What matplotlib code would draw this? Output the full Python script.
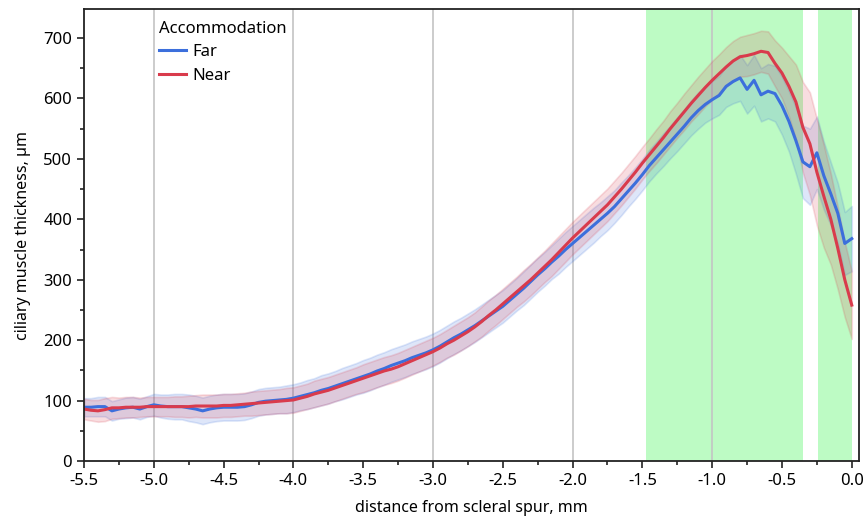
import numpy as np
import matplotlib
matplotlib.use("Agg")
import matplotlib.pyplot as plt
from matplotlib.ticker import MultipleLocator, FormatStrFormatter

plt.rcParams["font.family"] = ["Noto Sans", "DejaVu Sans"]

# ── data ──────────────────────────────────────────────────────────────────────
distance = np.round(np.arange(-5.5, 0.001, 0.05), 2)   # mm, 111 samples

far_mean = [
    89, 89, 90, 90, 83, 86, 88, 89, 86, 90, 93,
    91, 90, 90, 90, 88, 86, 83, 86, 88, 89,
    89, 89, 90, 93, 97, 99, 100, 101, 102, 104,
    107, 110, 113, 117, 120, 124, 128, 132, 136, 140,
    144, 149, 153, 158, 162, 166, 171, 175, 179, 184,
    190, 197, 204, 210, 217, 224, 232, 240, 248, 256,
    266, 276, 286, 297, 308, 318, 329, 339, 350, 360,
    370, 380, 390, 400, 410, 421, 434, 447, 460, 474,
    489, 502, 515, 528, 541, 554, 568, 580, 590, 598,
    605, 620, 628, 634, 615, 630, 606, 612, 608, 588,
    562, 530, 495, 487, 510, 472, 442, 410, 360, 368,
]
near_mean = [
    86, 84, 83, 85, 88, 88, 89, 89, 89, 90, 90,
    90, 90, 90, 90, 90, 91, 91, 91, 91, 92,
    92, 93, 94, 95, 96, 97, 98, 99, 100, 101,
    104, 107, 111, 114, 117, 121, 125, 129, 133, 137,
    141, 145, 149, 152, 156, 161, 166, 171, 176, 181,
    187, 194, 200, 207, 214, 222, 231, 241, 250, 260,
    270, 280, 290, 300, 311, 322, 333, 345, 357, 369,
    380, 391, 402, 413, 424, 437, 450, 464, 478, 493,
    507, 521, 535, 550, 564, 578, 592, 605, 618, 630,
    641, 652, 662, 669, 671, 674, 678, 676, 658, 642,
    620, 594, 552, 525, 478, 438, 400, 352, 300, 258,
]
# half-width of the shaded band
far_err = [
    15, 15, 16, 16, 16, 16, 17, 17, 17, 17, 18,
    19, 20, 21, 21, 22, 22, 22, 22, 22, 22,
    22, 22, 22, 22, 22, 22, 22, 22, 23, 23,
    23, 24, 24, 25, 25, 25, 26, 26, 26, 27,
    27, 27, 27, 27, 27, 27, 27, 27, 27, 27,
    27, 27, 27, 27, 27, 27, 27, 27, 27, 27,
    27, 27, 28, 28, 28, 28, 28, 29, 29, 29,
    29, 29, 29, 28, 28, 27, 27, 26, 26, 26,
    26, 26, 27, 27, 28, 28, 29, 30, 30, 31,
    32, 34, 36, 38, 40, 42, 44, 45, 46, 48,
    50, 55, 60, 63, 60, 56, 52, 50, 52, 54,
]
near_err = [
    17, 17, 18, 19, 18, 17, 17, 17, 16, 16, 16,
    16, 16, 17, 17, 18, 18, 19, 19, 19, 19,
    19, 19, 19, 20, 20, 20, 20, 20, 21, 21,
    21, 21, 22, 22, 22, 22, 22, 22, 22, 23,
    23, 23, 23, 23, 23, 23, 23, 23, 23, 23,
    23, 23, 24, 24, 24, 24, 25, 25, 25, 25,
    25, 25, 26, 26, 26, 26, 27, 27, 27, 27,
    27, 27, 27, 27, 27, 27, 27, 27, 27, 27,
    27, 28, 28, 29, 29, 30, 30, 31, 31, 32,
    32, 33, 33, 33, 34, 34, 34, 35, 38, 42,
    50, 62, 75, 85, 88, 85, 75, 68, 62, 56,
]

# regions highlighted in green (mm)
highlight_regions = [(-1.475, -0.35), (-0.24, 0.005)]

series = [
    ("Far", far_mean, far_err, "#3c6fdc"),
    ("Near", near_mean, near_err, "#d93b4c"),
]

# ── plot ──────────────────────────────────────────────────────────────────────
fig = plt.figure(figsize=(8.67, 5.17), dpi=100)
ax = fig.add_axes([0.0969, 0.1083, 0.8939, 0.8743])

for x0, x1 in highlight_regions:
    ax.axvspan(x0, x1, color="#bdfbc4", lw=0, zorder=0)

for gx in [-5.0, -4.0, -3.0, -2.0, -1.0]:
    ax.axvline(gx, color="#c4c4c4", lw=1.2, zorder=0.5)

for name, mean, err, color in series:
    mean = np.array(mean, dtype=float)
    err = np.array(err, dtype=float)
    ax.fill_between(distance, mean - err, mean + err, color=color,
                    alpha=0.17, lw=1.2, edgecolor=color, zorder=1)
    ax.plot(distance, mean, color=color, lw=2.2, label=name, zorder=2)

ax.set_xlim(-5.5, 0.052)
ax.set_ylim(0, 748)
ax.xaxis.set_major_locator(MultipleLocator(0.5))
ax.xaxis.set_minor_locator(MultipleLocator(0.25))
ax.xaxis.set_major_formatter(FormatStrFormatter("%.1f"))
ax.yaxis.set_major_locator(MultipleLocator(100))
ax.yaxis.set_minor_locator(MultipleLocator(50))
ax.tick_params(which="major", length=5, width=1.2, labelsize=12, color="#222222")
ax.tick_params(which="minor", length=3, width=1.2, color="#222222")
for sp in ax.spines.values():
    sp.set_color("#222222")
    sp.set_linewidth(1.3)

ax.set_xlabel("distance from scleral spur, mm", fontsize=11.5, labelpad=8)
ax.set_ylabel("ciliary muscle thickness, µm", fontsize=11.5, labelpad=9)

leg = ax.legend(title="Accommodation", loc="upper left", bbox_to_anchor=(0.082, 1.0),
                frameon=False, fontsize=12, title_fontsize=12, handlelength=1.6,
                handletextpad=0.4, labelspacing=0.45, borderaxespad=0.3)
leg._legend_box.align = "left"

fig.savefig("out.png", dpi=100)
